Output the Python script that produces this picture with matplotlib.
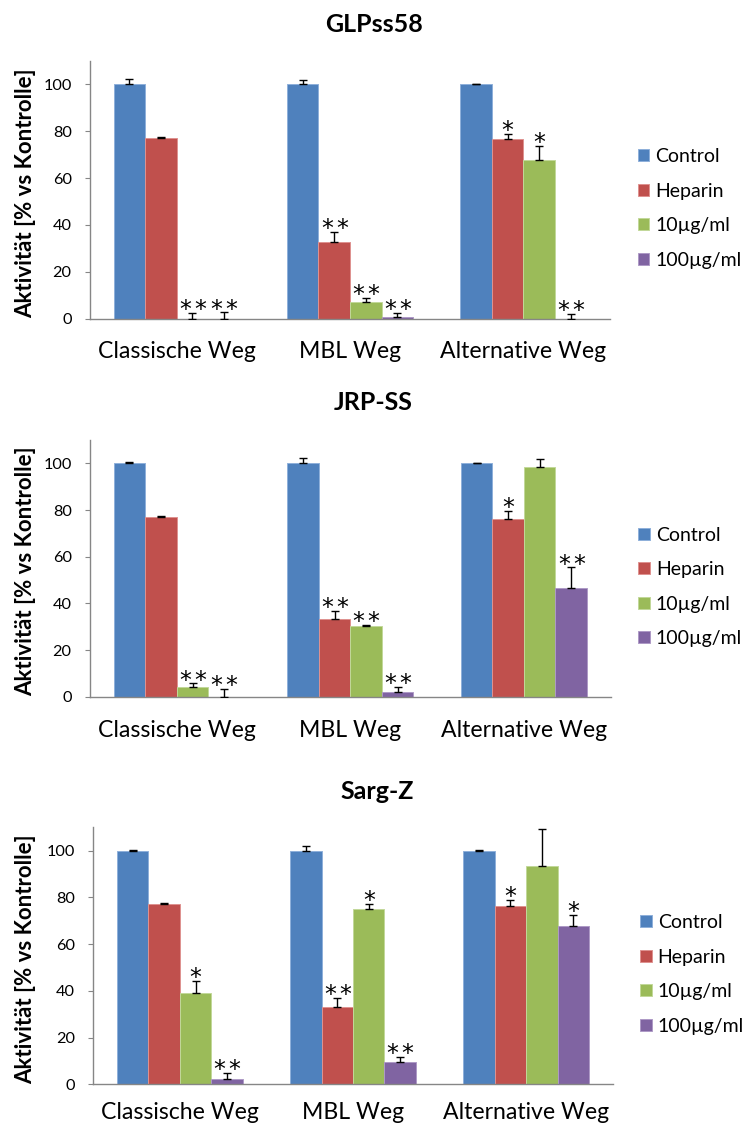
import matplotlib
matplotlib.use("Agg")
import matplotlib.pyplot as plt
import numpy as np

plt.rcParams['font.family'] = ['Lato', 'DejaVu Sans']

# ---------------- data ----------------
categories = ["Classische Weg", "MBL Weg", "Alternative Weg"]
series_names = ["Control", "Heparin", "10µg/ml", "100µg/ml"]
titles = ["GLPss58", "JRP-SS", "Sarg-Z"]
y_ticks = [0, 20, 40, 60, 80, 100]

# GLPss58
glp_control = [100.0, 100.0, 100.0]
glp_control_err = [2.4, 2.1, 0.3]
glp_heparin = [77.3, 32.9, 76.5]
glp_heparin_err = [0.3, 4.3, 2.5]
glp_10 = [0.0, 7.3, 67.9]
glp_10_err = [2.3, 1.7, 5.7]
glp_100 = [0.0, 0.6, 0.0]
glp_100_err = [2.7, 2.0, 1.9]
glp_stars = [["", "", ""], ["", "**", "*"], ["**", "**", "*"], ["**", "**", "**"]]

# JRP-SS
jrp_control = [100.0, 100.0, 100.0]
jrp_control_err = [0.4, 2.1, 0.3]
jrp_heparin = [77.2, 33.2, 76.3]
jrp_heparin_err = [0.2, 3.6, 3.3]
jrp_10 = [4.3, 30.3, 98.4]
jrp_10_err = [1.4, 0.4, 3.6]
jrp_100 = [0.0, 1.9, 46.7]
jrp_100_err = [3.2, 2.4, 8.7]
jrp_stars = [["", "", ""], ["", "**", "*"], ["**", "**", ""], ["**", "**", "**"]]

# Sarg-Z
sarg_control = [100.0, 100.0, 100.0]
sarg_control_err = [0.3, 2.0, 0.3]
sarg_heparin = [77.1, 33.2, 76.3]
sarg_heparin_err = [0.3, 3.9, 2.6]
sarg_10 = [39.0, 75.0, 93.6]
sarg_10_err = [5.4, 2.2, 15.6]
sarg_100 = [2.1, 9.7, 67.8]
sarg_100_err = [2.9, 1.9, 4.7]
sarg_stars = [["", "", ""], ["", "**", "*"], ["*", "*", ""], ["**", "**", "*"]]

panels = [
    (titles[0], [glp_control, glp_heparin, glp_10, glp_100],
     [glp_control_err, glp_heparin_err, glp_10_err, glp_100_err], glp_stars),
    (titles[1], [jrp_control, jrp_heparin, jrp_10, jrp_100],
     [jrp_control_err, jrp_heparin_err, jrp_10_err, jrp_100_err], jrp_stars),
    (titles[2], [sarg_control, sarg_heparin, sarg_10, sarg_100],
     [sarg_control_err, sarg_heparin_err, sarg_10_err, sarg_100_err], sarg_stars),
]

# ---------------- style / layout ----------------
colors = ["#4F81BD", "#C0504D", "#9BBB59", "#8064A2"]
edge_colors = ["#8FB0DA", "#DE9290", "#C2D89A", "#AE9AC6"]
axis_gray = "#868686"

W, H = 747, 1126
# (left px, right px, top px, zero-line px, title x, title baseline, label baseline offset px)
layout = [
    (90.0, 610.0, 61.0, 318.7, 374.2, 31.7, 39.6),
    (90.0, 610.7, 440.0, 696.7, 373.3, 410.0, 40.0),
    (93.3, 612.7, 827.3, 1084.3, 376.7, 799.0, 35.0),
]

fig = plt.figure(figsize=(W / 100, H / 100), dpi=100)

n_series = len(series_names)
bar_w = 1.0 / (n_series + 1.5)
xc = np.arange(len(categories))
star_pitch_pt = 15 * 0.72  # spacing between two asterisks


def draw_stars(ax, label, x, y):
    n = len(label)
    for i in range(n):
        dx = (i - (n - 1) / 2) * star_pitch_pt
        ax.annotate("*", xy=(x, y), xytext=(dx, -3.0), textcoords='offset points',
                    ha='center', va='baseline', fontsize=17, color='black',
                    family='DejaVu Sans', zorder=4)


for (title, vals, errs, stars), (lpx, rpx, tpx, zpx, tx, tby, lbl_off) in zip(panels, layout):
    ax = fig.add_axes([lpx / W, (H - zpx) / H, (rpx - lpx) / W, (zpx - tpx) / H])
    for j in range(n_series):
        xs = xc + (j - (n_series - 1) / 2) * bar_w
        v = np.array(vals[j])
        e = np.array(errs[j])
        ax.bar(xs, v, width=bar_w, color=colors[j], edgecolor=edge_colors[j],
               linewidth=0.7, label=series_names[j], zorder=2)
        ax.errorbar(xs, v, yerr=[np.zeros_like(e), e], fmt='none', ecolor='black',
                    elinewidth=1.0, capsize=2.6, capthick=1.0, zorder=3)
        for k in range(len(categories)):
            if stars[j][k]:
                draw_stars(ax, stars[j][k], xs[k], v[k] + e[k])
    ax.set_xlim(-0.5, len(categories) - 0.5)
    ax.set_ylim(0, 110)
    ax.set_yticks(y_ticks)
    ax.set_xticks(xc, categories)
    ax.tick_params(axis='x', length=0, pad=lbl_off * 0.72, labelsize=16.6)
    for t in ax.get_xticklabels():
        t.set_va('baseline')
    ax.tick_params(axis='y', length=3.6, width=0.8, color=axis_gray, pad=9.6,
                   labelsize=11.7, direction='out')
    for s in ['top', 'right']:
        ax.spines[s].set_visible(False)
    for s in ['left', 'bottom']:
        ax.spines[s].set_color(axis_gray)
        ax.spines[s].set_linewidth(1.0)
    ax.set_ylabel("Aktivität [% vs Kontrolle]", fontsize=16, fontweight='bold')
    ax.yaxis.set_label_coords((25.8 - lpx) / (rpx - lpx), 0.488)
    ax.yaxis.label.set_va('center')
    ax.legend(loc='center left', bbox_to_anchor=(1.053, 0.428), frameon=False,
              fontsize=14, handlelength=0.6, handleheight=0.6, handletextpad=0.3,
              labelspacing=0.9, borderpad=0, borderaxespad=0)
    fig.text(tx / W, 1 - tby / H, title, ha='center', va='baseline',
             fontsize=18, fontweight='bold')

fig.savefig("out.png", dpi=100)
